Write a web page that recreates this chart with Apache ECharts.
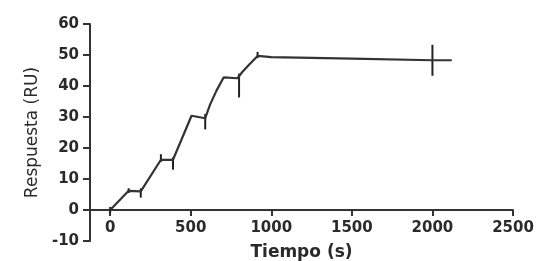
<!DOCTYPE html>
<html>
<head>
<meta charset="utf-8">
<script src="https://cdn.jsdelivr.net/npm/echarts@6/dist/echarts.min.js"></script>
<style>
  html, body { margin: 0; padding: 0; background: #fff; }
  #chart { width: 538px; height: 261px; }
</style>
</head>
<body>
<div id="chart"></div>
<script>
// response curve (time in s, response in RU)
let tiempo = [0, 115, 190, 315, 390, 505, 590, 620, 660, 705, 790, 820, 865, 915, 1000, 1500, 2000, 2120];
let respuesta = [0, 6.2, 6, 16.2, 16.2, 30.4, 29.6, 34, 38.5, 42.8, 42.5, 44.5, 47, 49.7, 49.3, 48.8, 48.3, 48.3];

// error bars: time, low, high
let errT = [0, 115, 190, 315, 390, 590, 800, 915, 2000];
let errLow = [-1, 5.5, 4, 15.5, 13, 26, 36.3, 49, 43.3];
let errHigh = [1, 7, 7, 18, 17, 31, 44, 51, 53.3];

let xTicks = [0, 500, 1000, 1500, 2000, 2500];

let chartDom = document.getElementById("chart");
let myChart = echarts.init(chartDom);
let txt = "#2a2a2a";
let font = "DejaVu Sans";

let lineData = tiempo.map((t, i) => [t, respuesta[i]]);
let errData = errT.map((t, i) => [t, errLow[i], errHigh[i]]);

let option = {
  animation: false,
  grid: { left: 90, right: 25, top: 24, bottom: 20, containLabel: false, outerBoundsMode: "none" },
  xAxis: {
    type: "value",
    min: -125,
    max: 2500,
    // x axis sits on the y = 0 line, like the original
    offset: -31,
    name: "Tiempo (s)",
    nameLocation: "middle",
    nameGap: 34,
    nameTextStyle: { color: txt, fontSize: 17, fontWeight: "bold", fontFamily: font },
    axisLine: { show: true, onZero: false, lineStyle: { color: "#333", width: 2 } },
    axisTick: { show: true, length: 6, customValues: xTicks, lineStyle: { color: "#333", width: 2 } },
    axisLabel: {
      customValues: xTicks,
      color: txt,
      fontSize: 15,
      fontWeight: "bold",
      fontFamily: font,
      margin: 11,
      formatter: function (v) {
        return String(v);
      },
    },
    splitLine: { show: false },
  },
  yAxis: {
    type: "value",
    min: -10,
    max: 60,
    interval: 10,
    name: "Respuesta (RU)",
    nameLocation: "middle",
    nameGap: 46,
    nameTextStyle: { color: txt, fontSize: 17, fontFamily: font },
    axisLine: { show: true, onZero: false, lineStyle: { color: "#333", width: 2 } },
    axisTick: { show: true, length: 7, lineStyle: { color: "#333", width: 2 } },
    axisLabel: { color: txt, fontSize: 15, fontWeight: "bold", fontFamily: font, margin: 11 },
    splitLine: { show: false },
  },
  series: [
    {
      type: "line",
      data: lineData,
      symbol: "none",
      lineStyle: { color: "#333", width: 2.2 },
    },
    {
      type: "custom",
      data: errData,
      renderItem: function (params, api) {
        let lo = api.coord([api.value(0), api.value(1)]);
        let hi = api.coord([api.value(0), api.value(2)]);
        return {
          type: "line",
          shape: { x1: lo[0], y1: lo[1], x2: hi[0], y2: hi[1] },
          style: { stroke: "#222", lineWidth: 2 },
        };
      },
    },
  ],
};

option && myChart.setOption(option);
</script>
</body>
</html>
